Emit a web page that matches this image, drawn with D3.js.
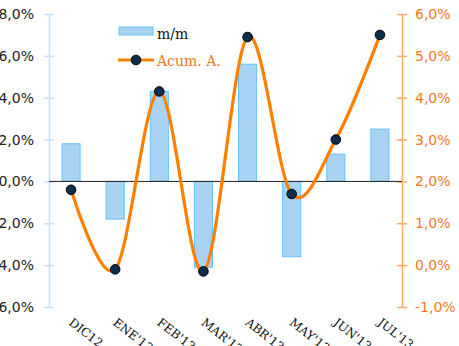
<!DOCTYPE html>
<html><head><meta charset="utf-8">
<script src="https://cdn.jsdelivr.net/npm/d3@7"></script>
<style>body{margin:0;background:#fff}svg{display:block}</style>
</head><body>
<svg id="c" width="459" height="346"></svg>
<script>
const categories = ["DIC12","ENE'13","FEB'13","MAR'13","ABR'13","MAY'13","JUN'13","JUL'13"];
const mm = [1.8, -1.8, 4.3, -4.1, 5.6, -3.6, 1.3, 2.5];
const acum = [1.8, -0.1, 4.15, -0.15, 5.45, 1.7, 3.0, 5.5];
const leftTicks = [8,6,4,2,0,-2,-4,-6];
const rightTicks = [6,5,4,3,2,1,0,-1];

const svg = d3.select("#c");
const L = 49, R = 402, T = 14, B = 307;
const x = d3.scaleBand().domain(categories).range([L, R]).paddingInner(0.59).paddingOuter(0.295);
const yL = d3.scaleLinear().domain([-6, 8]).range([B, T]);
const yR = d3.scaleLinear().domain([-1, 6]).range([B, T]);
const fmt = v => v.toFixed(1).replace(".", ",") + "%";

// left axis
const la = svg.append("g").attr("transform", `translate(${L},0)`)
  .call(d3.axisLeft(yL).tickValues(leftTicks).tickFormat(fmt).tickSizeInner(5).tickSizeOuter(0).tickPadding(10));
la.select(".domain").attr("stroke", "#c6e0f6").attr("stroke-width", 1.5);
la.selectAll(".tick line").attr("stroke", "#c6e0f6").attr("x2", 5).attr("x1", -5).attr("stroke-width", 1.5);
la.selectAll(".tick text").attr("font-family", "Verdana, DejaVu Sans, sans-serif").attr("font-size", 14).attr("fill", "#222");

// right axis
const ra = svg.append("g").attr("transform", `translate(${R},0)`)
  .call(d3.axisRight(yR).tickValues(rightTicks).tickFormat(fmt).tickSizeInner(5).tickSizeOuter(0).tickPadding(8));
ra.select(".domain").attr("stroke", "#ffac66").attr("stroke-width", 1.5);
ra.selectAll(".tick line").attr("stroke", "#ffac66").attr("x1", -5).attr("x2", 5).attr("stroke-width", 1.5);
ra.selectAll(".tick text").attr("font-family", "Verdana, DejaVu Sans, sans-serif").attr("font-size", 14).attr("fill", "#f07a1e");

// bars
svg.append("g").selectAll("rect").data(mm).join("rect")
  .attr("x", (d, i) => x(categories[i]))
  .attr("width", x.bandwidth())
  .attr("y", d => yL(Math.max(0, d)))
  .attr("height", d => Math.abs(yL(d) - yL(0)))
  .attr("fill", "#a8d3f3").attr("stroke", "#62c4fa").attr("stroke-width", 1);

// zero line
svg.append("line").attr("x1", L).attr("x2", R).attr("y1", yL(0)).attr("y2", yL(0))
  .attr("stroke", "#222").attr("stroke-width", 1);

// line
const line = d3.line().x((d, i) => x(categories[i]) + x.bandwidth() / 2).y(d => yR(d)).curve(d3.curveCardinal.tension(0));
svg.append("path").datum(acum).attr("d", line).attr("fill", "none").attr("stroke", "#ff7f00").attr("stroke-width", 3.2);
svg.append("g").selectAll("circle").data(acum).join("circle")
  .attr("cx", (d, i) => x(categories[i]) + x.bandwidth() / 2).attr("cy", d => yR(d)).attr("r", 4.8)
  .attr("fill", "#0c2d4c").attr("stroke", "#000").attr("stroke-width", 1);

// x labels
svg.append("g").selectAll("text").data(categories).join("text")
  .attr("transform", d => `translate(${x(d) + x.bandwidth() / 2 - 3},${324}) rotate(38)`)
  .attr("font-family", "DejaVu Serif, serif").attr("font-size", 12).attr("fill", "#111")
  .text(d => d);

// legend
const lg = svg.append("g");
lg.append("rect").attr("x", 119).attr("y", 27).attr("width", 34).attr("height", 8)
  .attr("fill", "#a8d3f3").attr("stroke", "#62c4fa");
lg.append("text").attr("x", 157).attr("y", 39).attr("font-family", "DejaVu Serif, serif").attr("font-size", 14).attr("fill", "#111").text("m/m");
lg.append("line").attr("x1", 118).attr("x2", 154).attr("y1", 60).attr("y2", 60).attr("stroke", "#ff7f00").attr("stroke-width", 3.2);
lg.append("circle").attr("cx", 136).attr("cy", 60).attr("r", 4.8).attr("fill", "#0c2d4c").attr("stroke", "#000");
lg.append("text").attr("x", 157).attr("y", 66).attr("font-family", "DejaVu Serif, serif").attr("font-size", 14).attr("fill", "#f07a1e").text("Acum. A.");
</script>
</body></html>
